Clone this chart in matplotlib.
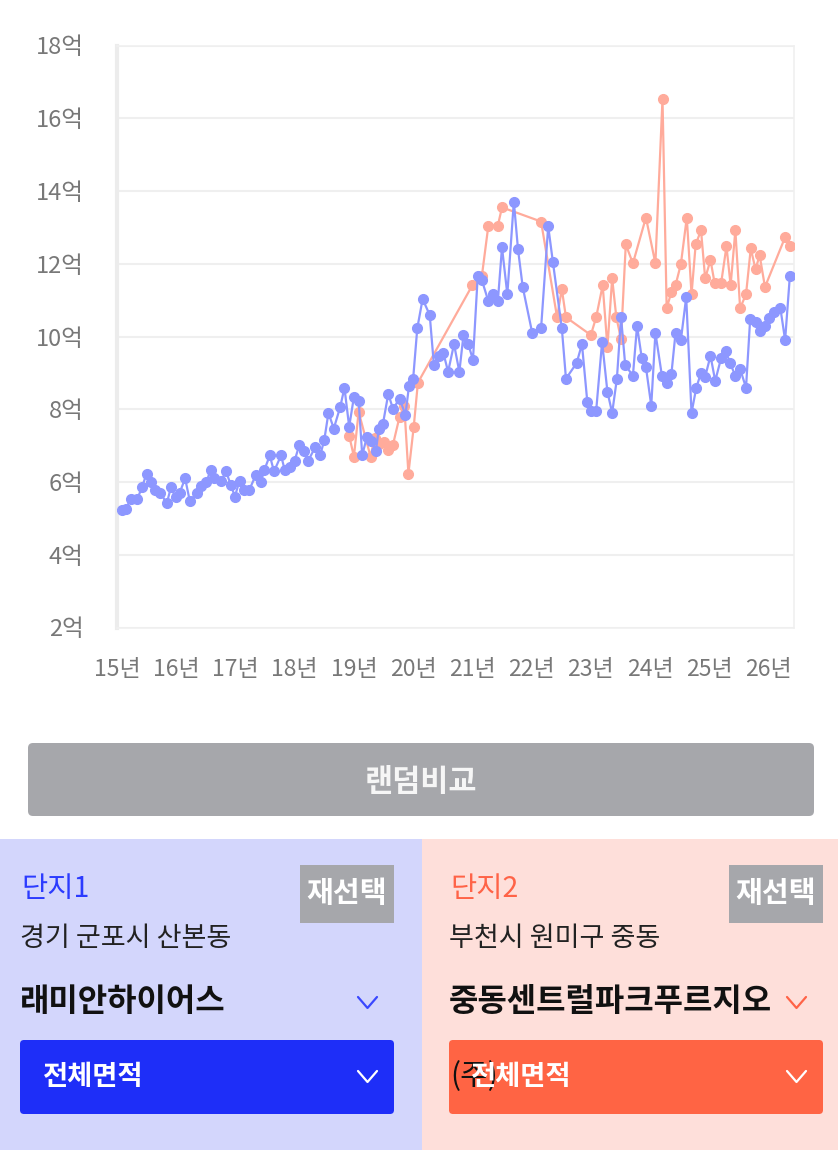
import matplotlib
matplotlib.use("Agg")
import matplotlib.pyplot as plt
from matplotlib.patches import FancyBboxPatch, Rectangle

plt.rcParams['font.family'] = ['Noto Sans CJK KR', 'DejaVu Sans']

# 단지1 (blue) - year (decimal, 15 = 2015) and price in 억
blue_t = [15.08, 15.15, 15.23, 15.34, 15.42, 15.50, 15.57, 15.64, 15.73, 15.84, 15.91, 15.99,
          16.06, 16.15, 16.23, 16.35, 16.41, 16.51, 16.58, 16.64, 16.76, 16.84, 16.92, 16.99,
          17.07, 17.15, 17.23, 17.34, 17.43, 17.49, 17.58, 17.65, 17.77, 17.83, 17.92,
          18.00, 18.08, 18.15, 18.23, 18.35, 18.43, 18.50, 18.57, 18.66, 18.77, 18.84, 18.92,
          19.00, 19.08, 19.14, 19.22, 19.29, 19.37, 19.42, 19.49, 19.58, 19.66, 19.77, 19.87, 19.93,
          20.00, 20.07, 20.16, 20.28, 20.35, 20.43, 20.51, 20.59, 20.69, 20.78, 20.85, 20.93,
          21.01, 21.09, 21.16, 21.27, 21.35, 21.43, 21.50, 21.59, 21.70, 21.77, 21.85,
          22.01, 22.16, 22.28, 22.36, 22.51, 22.58, 22.76, 22.85, 22.94,
          23.00, 23.09, 23.19, 23.28, 23.36, 23.44, 23.51, 23.58, 23.71, 23.78, 23.86, 23.93,
          24.02, 24.09, 24.20, 24.28, 24.36, 24.43, 24.52, 24.61, 24.70, 24.78, 24.86, 24.93,
          25.02, 25.10, 25.20, 25.28, 25.35, 25.44, 25.52, 25.62, 25.69, 25.78, 25.85, 25.94,
          26.01, 26.10, 26.20, 26.28, 26.36]
blue_v = [5.22, 5.27, 5.52, 5.52, 5.85, 6.23, 6.01, 5.77, 5.71, 5.41, 5.85, 5.58,
          5.71, 6.10, 5.47, 5.71, 5.90, 5.99, 6.34, 6.12, 6.04, 6.29, 5.93, 5.60,
          6.04, 5.77, 5.77, 6.18, 6.01, 6.34, 6.73, 6.29, 6.73, 6.34, 6.40,
          6.59, 7.03, 6.86, 6.59, 6.97, 6.73, 7.16, 7.90, 7.47, 8.07, 8.59, 7.52,
          8.34, 8.23, 6.73, 7.25, 7.14, 6.84, 7.47, 7.60, 8.42, 8.01, 8.29, 7.85, 8.64,
          8.84, 10.23, 11.03, 10.59, 9.22, 9.47, 9.55, 9.03, 9.79, 9.03, 10.04, 9.79,
          9.36, 11.66, 11.55, 10.97, 11.16, 10.97, 12.45, 11.16, 13.71, 12.40, 11.36,
          10.10, 10.23, 13.03, 12.04, 10.23, 8.84, 9.27, 9.79, 8.21,
          7.96, 7.96, 9.85, 8.48, 7.90, 8.84, 10.53, 9.22, 8.92, 10.29, 9.41, 9.16,
          8.10, 10.10, 8.92, 8.73, 8.97, 10.10, 9.90, 11.08, 7.90, 8.59, 9.00, 8.89,
          9.47, 8.78, 9.41, 9.60, 9.27, 8.92, 9.11, 8.59, 10.48, 10.40, 10.15, 10.29,
          10.51, 10.67, 10.78, 9.90, 11.66]

# 단지2 (orange)
orange_t = [18.92, 19.00, 19.08, 19.28, 19.35, 19.43, 19.50, 19.58, 19.66, 19.77, 19.85, 19.92,
            20.01, 20.08, 21.00, 21.16, 21.27, 21.43, 21.50, 22.16, 22.43, 22.51, 22.58,
            23.00, 23.09, 23.20, 23.28, 23.36, 23.43, 23.51, 23.59, 23.71, 23.93,
            24.09, 24.21, 24.28, 24.36, 24.43, 24.52, 24.62, 24.70, 24.77, 24.86, 24.93,
            25.02, 25.09, 25.20, 25.29, 25.36, 25.44, 25.52, 25.62, 25.70, 25.78, 25.85, 25.94,
            26.28, 26.37]
orange_v = [7.27, 6.70, 7.93, 6.70, 7.22, 7.05, 7.11, 6.89, 7.03, 7.79, 8.10, 6.23,
            7.52, 8.73, 11.41, 11.66, 13.05, 13.05, 13.55, 13.16, 10.53, 11.30, 10.53,
            10.04, 10.53, 11.41, 9.71, 11.60, 10.53, 9.93, 12.53, 12.01, 13.27,
            12.01, 16.53, 10.78, 11.22, 11.41, 11.99, 13.27, 11.16, 12.53, 12.92, 11.60,
            12.10, 11.47, 11.47, 12.48, 11.41, 12.92, 10.78, 11.16, 12.42, 11.85, 12.23, 11.36,
            12.73, 12.48]

y_ticks = [2, 4, 6, 8, 10, 12, 14, 16, 18]
y_labels = [f"{v}억" for v in y_ticks]
x_ticks = list(range(15, 27))
x_labels = [f"{v}년" for v in x_ticks]

BLUE = "#8D97FF"
ORANGE = "#FFAB9B"

W, H = 838, 1150
fig = plt.figure(figsize=(W / 100, H / 100), dpi=100)
fig.patch.set_facecolor("white")

# pixel-space overlay for the UI part below the chart
ui = fig.add_axes([0, 0, 1, 1])
ui.set_xlim(0, W)
ui.set_ylim(H, 0)
ui.axis("off")

# chart
ax = fig.add_axes([117 / W, 1 - 627.5 / H, 677 / W, 582 / H])
ax.plot(orange_t, orange_v, color=ORANGE, lw=1.6, marker="o", ms=7, zorder=3)
ax.plot(blue_t, blue_v, color=BLUE, lw=1.6, marker="o", ms=7, zorder=4)
ax.set_xlim(15, 26.43)
ax.set_ylim(2, 18)
ax.set_yticks(y_ticks)
ax.set_yticklabels(y_labels)
ax.set_xticks(x_ticks)
ax.set_xticklabels(x_labels)
ax.tick_params(axis="y", length=0, pad=24, labelsize=17, labelcolor="#787878")
ax.tick_params(axis="x", length=0, pad=22, labelsize=16.5, labelcolor="#787878")
ax.grid(axis="y", color="#efefef", lw=1.5)
ax.set_axisbelow(True)
for side in ["top", "right", "bottom"]:
    ax.spines[side].set_color("#f0f0f0")
    ax.spines[side].set_linewidth(1.2)
ax.spines["left"].set_color("#ececec")
ax.spines["left"].set_linewidth(3)

# random compare button
ui.add_patch(FancyBboxPatch((28, 743), 786, 73, boxstyle="round,pad=0,rounding_size=5",
                            fc="#a6a7ab", ec="none"))
ui.text(421, 782, "랜덤비교", color="#f6f6f6", fontsize=22, fontweight="bold",
        ha="center", va="center")

# bottom panels
ui.add_patch(Rectangle((0, 839), 422, H - 839, fc="#d3d6fc", ec="none"))
ui.add_patch(Rectangle((422, 839), W - 422, H - 839, fc="#fedfda", ec="none"))


def chevron(x, y, color):
    ui.plot([x, x + 9.5, x + 19], [y - 6, y + 5, y - 6], color=color, lw=1.6,
            solid_capstyle="round")


panels = [
    (20, "단지1", "#2b3bff", "경기 군포시 산본동", "래미안하이어스", "#1e2ef8", 300, "#3a48ff"),
    (449, "단지2", "#ff6347", "부천시 원미구 중동", "중동센트럴파크푸르지오", "#ff6444", 729, "#ff6347"),
]
for x0, title, tcol, addr, name, boxcol, bx, chev in panels:
    ui.text(x0 + 1, 889, title, color=tcol, fontsize=20.5, fontweight="medium",
            ha="left", va="center")
    ui.add_patch(Rectangle((bx, 865), 94, 58, fc="#a6a7ab", ec="none"))
    ui.text(bx + 47, 893, "재선택", color="white", fontsize=21, fontweight="bold",
            ha="center", va="center")
    ui.text(x0, 938, addr, color="#222222", fontsize=19.5, ha="left", va="center")
    ui.text(x0, 1002, name, color="#111111", fontsize=23, fontweight="bold",
            ha="left", va="center")
    chevron(bx + 58, 1003, chev)
    ui.add_patch(FancyBboxPatch((x0, 1040), 374, 74, boxstyle="round,pad=0,rounding_size=4",
                                fc=boxcol, ec="none"))
    chevron(bx + 58, 1077, "white")

ui.text(43, 1077, "전체면적", color="white", fontsize=19.7, fontweight="bold",
        ha="left", va="center")
ui.text(450, 1077, "(주)", color="#111111", fontsize=21.5, ha="left", va="center")
ui.text(471, 1077, "전체면적", color="white", fontsize=19.7, fontweight="bold",
        ha="left", va="center")

fig.savefig("out.png", dpi=100)
